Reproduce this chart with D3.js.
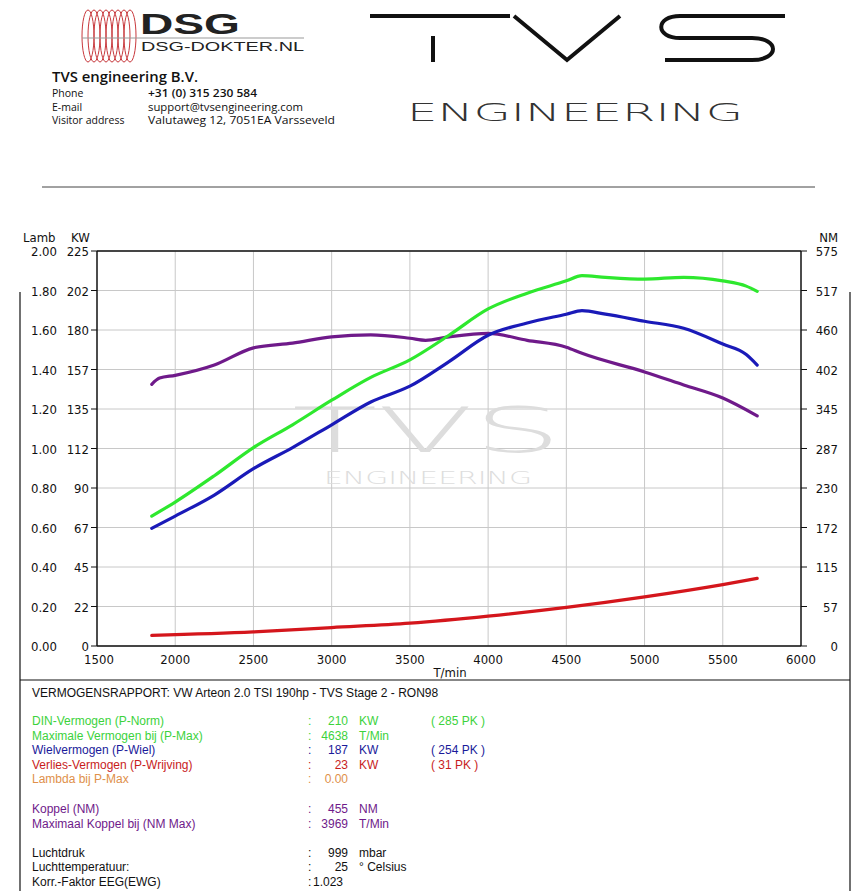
<!DOCTYPE html>
<html><head><meta charset="utf-8">
<script src="https://cdn.jsdelivr.net/npm/d3@7"></script>
<style>body{margin:0;background:#fff}svg{display:block}</style>
</head><body>
<svg id="c" width="862" height="891"></svg>
<script>
var rpmTicks = [1500, 2000, 2500, 3000, 3500, 4000, 4500, 5000, 5500, 6000];
var lambdaTicks = ['0.00','0.20','0.40','0.60','0.80','1.00','1.20','1.40','1.60','1.80','2.00'];
var kwTicks = ['0','22','45','67','90','112','135','157','180','202','225'];
var nmTicks = ['0','57','115','172','230','287','345','402','460','517','575'];

var powerRpm = [1850, 2000, 2250, 2500, 2750, 3000, 3250, 3500, 3750, 4000, 4250, 4500, 4600, 4750, 5000, 5250, 5500, 5650, 5720];
var dinKw =    [74, 82, 97, 113, 126, 140, 153, 163, 177, 192, 201, 208, 211, 210, 209, 210, 208, 205, 202];
var wheelKw =  [67, 74, 86, 101, 113, 126, 139, 148, 162, 177, 184, 189, 191, 189, 185, 181, 172, 166, 160];

var torqueRpm = [1850, 1900, 2000, 2250, 2500, 2750, 3000, 3250, 3500, 3600, 3750, 4000, 4250, 4500, 4600, 5000, 5250, 5500, 5720];
var torqueNm =  [381, 390, 394, 409, 434, 441, 450, 453, 448, 445, 450, 455, 445, 435, 426, 399, 380, 361, 335];

var lossRpm = [1850, 2500, 3000, 3500, 4000, 4500, 5000, 5500, 5720];
var lossKw =  [6, 8, 10.5, 13, 17, 22, 28, 35, 38.5];

var svg = d3.select('#c');
var font = 'Arial, "Liberation Sans", sans-serif';

function fit(sel, len) {
  return sel.attr('textLength', len).attr('lengthAdjust', 'spacingAndGlyphs');
}

// ---- header ----
var logo = svg.append('g');
for (var i = 0; i < 8; i++) {
  logo.append('ellipse').attr('cx', 88 + i * 6).attr('cy', 36).attr('rx', 6).attr('ry', 26)
    .attr('fill', 'none').attr('stroke', '#c8383c').attr('stroke-width', 1);
}
fit(logo.append('text').attr('x', 140).attr('y', 34).text('DSG')
  .attr('font-family', font).attr('font-weight', 'bold').attr('font-size', 30).attr('fill', '#222'), 100);
logo.append('line').attr('x1', 82).attr('x2', 304).attr('y1', 38).attr('y2', 38).attr('stroke', '#999');
fit(logo.append('text').attr('x', 141).attr('y', 51).text('DSG-DOKTER.NL')
  .attr('font-family', font).attr('font-size', 12).attr('fill', '#222'), 163);

var info = svg.append('g').attr('font-family', '"Open Sans", sans-serif').attr('fill', '#111');
fit(info.append('text').attr('x', 52).attr('y', 82).text('TVS engineering B.V.').attr('font-size', 14).attr('font-weight', 600), 146);
[['Phone', '+31 (0) 315 230 584', 97, 109], ['E-mail', 'support@tvsengineering.com', 111, 155], ['Visitor address', 'Valutaweg 12,  7051EA  Varsseveld', 124, 187]]
  .forEach(function (r, k) {
    info.append('text').attr('x', 52).attr('y', r[2]).text(r[0]).attr('font-size', 10.5);
    fit(info.append('text').attr('x', 148).attr('y', r[2]).text(r[1]).attr('font-size', 10.5).attr('font-weight', k === 0 ? 600 : 400), r[3]);
  });

var tvs = svg.append('g').attr('fill', 'none').attr('stroke', '#111').attr('stroke-width', 4);
tvs.append('line').attr('x1', 370).attr('x2', 510).attr('y1', 16).attr('y2', 16);
tvs.append('line').attr('x1', 433).attr('x2', 433).attr('y1', 36).attr('y2', 62);
tvs.append('path').attr('d', 'M514,16 L567,60 L620,16');
tvs.append('path').attr('d', 'M785,16 L680,16 C655,16 655,38 680,38 L752,38 C780,38 780,60 752,60 L665,60');
fit(svg.append('text').attr('x', 407).attr('y', 121).text('ENGINEERING')
  .attr('font-family', '"DejaVu Sans", sans-serif').attr('font-weight', 200).attr('font-size', 25)
  .attr('fill', '#333'), 336);

svg.append('line').attr('x1', 42).attr('x2', 815).attr('y1', 187).attr('y2', 187).attr('stroke', '#444');

// frame
var frame = svg.append('g').attr('stroke', '#111').attr('stroke-width', 1.2).attr('fill', 'none');
frame.append('line').attr('x1', 20).attr('x2', 20).attr('y1', 292).attr('y2', 891);
frame.append('line').attr('x1', 850).attr('x2', 850).attr('y1', 292).attr('y2', 891);
frame.append('line').attr('x1', 20).attr('x2', 850).attr('y1', 680).attr('y2', 680);

// ---- chart ----
var x = d3.scaleLinear().domain([1500, 6000]).range([97, 801]);
var yKw = d3.scaleLinear().domain([0, 225]).range([646, 251]);
var yNm = d3.scaleLinear().domain([0, 575]).range([646, 251]);

var g = svg.append('g');
g.append('rect').attr('x', 97).attr('y', 251).attr('width', 704).attr('height', 395).attr('fill', '#fff');
var grid = g.append('g').attr('stroke', '#c8c8c8').attr('stroke-width', 1);
rpmTicks.slice(1, -1).forEach(function (t) {
  grid.append('line').attr('x1', x(t)).attr('x2', x(t)).attr('y1', 251).attr('y2', 646);
});
kwTicks.forEach(function (t, k) {
  var yy = yKw(k * 22.5);
  grid.append('line').attr('x1', 97).attr('x2', 801).attr('y1', yy).attr('y2', yy);
});

// watermark
fit(g.append('text').attr('x', 292).attr('y', 452).text('TVS')
  .attr('font-family', '"DejaVu Sans", sans-serif').attr('font-weight', 200).attr('font-size', 62)
  .attr('fill', '#ddd'), 270);
fit(g.append('text').attr('x', 324).attr('y', 484).text('ENGINEERING')
  .attr('font-family', '"DejaVu Sans", sans-serif').attr('font-weight', 200).attr('font-size', 17)
  .attr('fill', '#ddd'), 208);

var axes = g.append('g').attr('stroke', '#111').attr('stroke-width', 1.5);
axes.append('line').attr('x1', 97).attr('x2', 97).attr('y1', 251).attr('y2', 646);
axes.append('line').attr('x1', 801).attr('x2', 801).attr('y1', 251).attr('y2', 646);
axes.append('line').attr('x1', 97).attr('x2', 801).attr('y1', 646).attr('y2', 646);
axes.append('line').attr('x1', 97).attr('x2', 801).attr('y1', 251).attr('y2', 251);

var lab = g.append('g').attr('font-family', '"Liberation Sans Narrow", "DejaVu Sans Condensed", Arial, sans-serif')
  .attr('font-size', 13).attr('fill', '#111');
kwTicks.forEach(function (t, k) {
  var yy = yKw(k * 22.5) + 5;
  lab.append('text').attr('x', 57).attr('y', yy).attr('text-anchor', 'end').text(lambdaTicks[k]);
  lab.append('text').attr('x', 89).attr('y', yy).attr('text-anchor', 'end').text(t);
  lab.append('text').attr('x', 838).attr('y', yy).attr('text-anchor', 'end').text(nmTicks[k]);
  g.append('line').attr('x1', 91).attr('x2', 97).attr('y1', yy - 5).attr('y2', yy - 5).attr('stroke', '#111');
  g.append('line').attr('x1', 801).attr('x2', 807).attr('y1', yy - 5).attr('y2', yy - 5).attr('stroke', '#111');
});
rpmTicks.forEach(function (t) {
  lab.append('text').attr('x', x(t) + (t === 1500 ? 2 : 0)).attr('y', 664).attr('text-anchor', 'middle').text(t);
});
lab.append('text').attr('x', 23).attr('y', 242).text('Lamb');
lab.append('text').attr('x', 71).attr('y', 242).text('KW');
lab.append('text').attr('x', 838).attr('y', 242).attr('text-anchor', 'end').text('NM');
lab.append('text').attr('x', 450).attr('y', 677).attr('text-anchor', 'middle').text('T/min');

function draw(xs, ys, yScale, color) {
  var pts = xs.map(function (v, k) { return [v, ys[k]]; });
  g.append('path').datum(pts)
    .attr('d', d3.line().curve(d3.curveMonotoneX).x(function (d) { return x(d[0]); }).y(function (d) { return yScale(d[1]); }))
    .attr('fill', 'none').attr('stroke', color).attr('stroke-width', 3.2).attr('stroke-linecap', 'round');
}
draw(lossRpm, lossKw, yKw, '#d4161c');
draw(torqueRpm, torqueNm, yNm, '#6f1a8a');
draw(powerRpm, wheelKw, yKw, '#1a1ab8');
draw(powerRpm, dinKw, yKw, '#2ee82e');

// ---- report ----
var rep = svg.append('g').attr('font-family', 'Arial, "Liberation Sans", sans-serif').attr('font-size', 12);
rep.append('text').attr('x', 32).attr('y', 697).text('VERMOGENSRAPPORT: VW Arteon 2.0 TSI 190hp - TVS Stage 2 - RON98').attr('fill', '#111');
var rows = [
  ['DIN-Vermogen (P-Norm)', '210', 'KW', '( 285 PK )', '#3cd23c', 725],
  ['Maximale Vermogen bij (P-Max)', '4638', 'T/Min', '', '#3cd23c', 740],
  ['Wielvermogen (P-Wiel)', '187', 'KW', '( 254 PK )', '#1a1a9a', 754],
  ['Verlies-Vermogen (P-Wrijving)', '23', 'KW', '( 31 PK )', '#c81c1c', 769],
  ['Lambda bij P-Max', '0.00', '', '', '#e0904a', 783],
  ['Koppel (NM)', '455', 'NM', '', '#6f1a8a', 813],
  ['Maximaal Koppel bij (NM Max)', '3969', 'T/Min', '', '#6f1a8a', 828],
  ['Luchtdruk', '999', 'mbar', '', '#111', 857],
  ['Luchttemperatuur:', '25', '° Celsius', '', '#111', 871],
  ['Korr.-Faktor EEG(EWG)', '', '', '', '#111', 886]
];
rows.forEach(function (r) {
  var t = rep.append('g').attr('fill', r[4]);
  t.append('text').attr('x', 32).attr('y', r[5]).text(r[0]);
  t.append('text').attr('x', 308).attr('y', r[5]).text(':');
  if (r[1]) t.append('text').attr('x', 348).attr('y', r[5]).attr('text-anchor', 'end').text(r[1]);
  t.append('text').attr('x', 359).attr('y', r[5]).text(r[2]);
  t.append('text').attr('x', 431).attr('y', r[5]).text(r[3]);
});
rep.append('text').attr('x', 313).attr('y', 886).text('1.023').attr('fill', '#111');
</script>
</body></html>
